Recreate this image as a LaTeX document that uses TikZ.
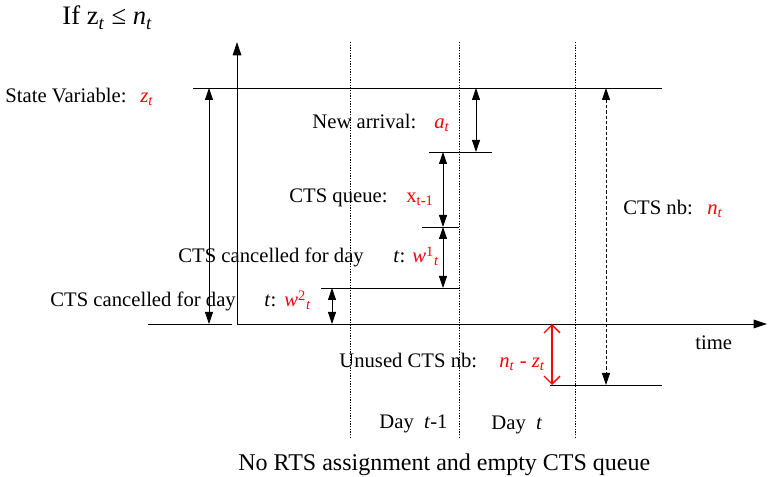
\documentclass[tikz,border=0pt]{standalone}
\usepackage{fontspec}
\setmainfont{Liberation Serif}
\usetikzlibrary{arrows.meta}
\newcommand\idx[2]{\textit{#1}\textsubscript{\textit{#2}}}
\tikzset{
	lbl/.style={anchor=base west, inner sep=0pt, font=\fontsize{15.5}{18}\selectfont},
	val/.style={lbl, text=red},
	dimarrow/.style={{Triangle[length=9pt,width=6pt]}-{Triangle[length=9pt,width=6pt]}},
	dayline/.style={dash pattern=on 1pt off 1pt, line width=0.6pt},
	level/.style={line width=0.6pt}
}
\begin{document}
\begin{tikzpicture}[x=0.75pt, y=-0.75pt, line width=0.6pt]
		\useasboundingbox (0,0) rectangle (768,477);
		% axes
		\coordinate (o) at (237,324);
		\coordinate (ytop) at (237,42);
		\coordinate (xend) at (767,324);
		\draw[-{Triangle[length=10pt,width=6.5pt]}] (o) -- (ytop);
		\draw[-{Triangle[length=10pt,width=6.5pt]}] (o) -- (xend);
		% day separators
		\foreach \x/\n in {350/a, 459/b, 575/c} {
		  \coordinate (d\n top) at (\x,42);
		  \coordinate (d\n bot) at (\x,437);
		  \draw[dayline] (d\n top) -- (d\n bot);
		}
		% levels
		\coordinate (topL) at (193,88);   \coordinate (topR) at (662,88);
		\coordinate (arrL) at (429,152);  \coordinate (arrR) at (492,152);
		\coordinate (queL) at (422,227);  \coordinate (queR) at (459,227);
		\coordinate (w1L) at (321,288);   \coordinate (w1R) at (459,288);
		\coordinate (botL) at (148,324);  \coordinate (botR) at (232,324);
		\coordinate (unL) at (550,385);   \coordinate (unR) at (662,385);
		\foreach \a/\b in {topL/topR, arrL/arrR, queL/queR, w1L/w1R, botL/botR, unL/unR}
		  \draw[level] (\a) -- (\b);
		% dimension arrows
		\draw[dimarrow] (209,88) coordinate (s1) -- (209,324) coordinate (s2);
		\draw[dimarrow] (476,88) coordinate (a1) -- (476,152) coordinate (a2);
		\draw[dimarrow] (443,152) coordinate (q1) -- (443,227) coordinate (q2);
		\draw[dimarrow] (443,227) coordinate (c1) -- (443,288) coordinate (c2);
		\draw[dimarrow] (332,288) coordinate (e1) -- (332,324) coordinate (e2);
		\draw[dimarrow, dash pattern=on 2.5pt off 1.5pt] (606,88) coordinate (n1) -- (606,385) coordinate (n2);
		\draw[red, line width=1pt, {Straight Barb[length=6pt,width=12pt]}-{Straight Barb[length=6pt,width=12pt]}]
		  (552,324) coordinate (u1) -- (552,385) coordinate (u2);
		% labels
		\node[lbl, font=\fontsize{20}{23}\selectfont] (title) at (62,25) {If z\textsubscript{\textit{t}} ≤ \idx{n}{t}};
		\node[lbl] (state) at (5,103) {State Variable:};
		\node[val] (zt) at (140,103) {\idx{z}{t}};
		\node[lbl] (arrival) at (312,129) {New arrival:};
		\node[val] (at) at (434,129) {\idx{a}{t}};
		\node[lbl] (queue) at (289,203) {CTS queue:};
		\node[val] (xt) at (406,203) {x\textsubscript{t-1}};
		\node[lbl] (cancA) at (178,263) {CTS cancelled for day};
		\node[lbl] (tA) at (393,263) {\textit{t}:};
		\node[val] (wA) at (412,263) {\textit{w}\textsuperscript{1}\textsubscript{\textit{t}}};
		\node[lbl] (cancB) at (50,307) {CTS cancelled for day};
		\node[lbl] (tB) at (264,307) {\textit{t}:};
		\node[val] (wB) at (284,307) {\textit{w}\textsuperscript{2}\textsubscript{\textit{t}}};
		\node[lbl] (nb) at (623,215) {CTS nb:};
		\node[val] (nt) at (707,215) {\idx{n}{t}};
		\node[lbl] (time) at (695,350) {time};
		\node[lbl] (unused) at (339,368) {Unused CTS nb:};
		\node[val] (diff) at (499,368) {\idx{n}{t} - \idx{z}{t}};
		\node[lbl] (dayA) at (379,428) {Day \ \textit{t}-1};
		\node[lbl] (dayB) at (491,430) {Day \ \textit{t}};
		\node[lbl, font=\fontsize{18}{21}\selectfont] (caption) at (238,470) {No RTS assignment and empty CTS queue};
		\end{tikzpicture}
\end{document}
